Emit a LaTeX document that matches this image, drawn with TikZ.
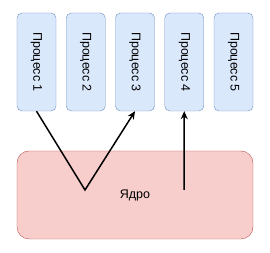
\documentclass[tikz,border=0pt]{standalone}
\usepackage{fontspec}
\setmainfont{Liberation Sans}
\usetikzlibrary{arrows.meta}
\definecolor{procfill}{HTML}{DAE8FC}
\definecolor{procline}{HTML}{6C8EBF}
\definecolor{corefill}{HTML}{F8CECC}
\definecolor{coreline}{HTML}{B85450}

\begin{document}
\begin{tikzpicture}[x=1pt,y=1pt,
  proc/.style={draw=procline,fill=procfill,rounded corners=5pt,minimum width=39pt,minimum height=98pt,inner sep=0pt},
  core/.style={draw=coreline,fill=corefill,rounded corners=12pt,minimum width=236pt,minimum height=88pt,inner sep=0pt},
  txt/.style={font=\fontsize{12.5}{14}\selectfont,inner sep=0pt},
  link/.style={line width=1.5pt,-{Stealth[length=8pt,width=7pt]}}]
\useasboundingbox (0,0) rectangle (270,253);
\foreach \i in {1,...,5} {
  \node[proc] (p\i) at ({36.5+49.25*(\i-1)},191) {};
  \node[txt,rotate=-90] (t\i) at (p\i) {Процесс \i};
}
\node[core] (core) at (135,58) {};
\node[txt] (ct) at (135,57) {Ядро};
\coordinate (k1) at (85,63);
\coordinate (k2) at (184,63);
\draw[link] (p1.south) -- (k1) -- (p3.south);
\draw[link] (k2) -- (p4.south);
\end{tikzpicture}
\end{document}
